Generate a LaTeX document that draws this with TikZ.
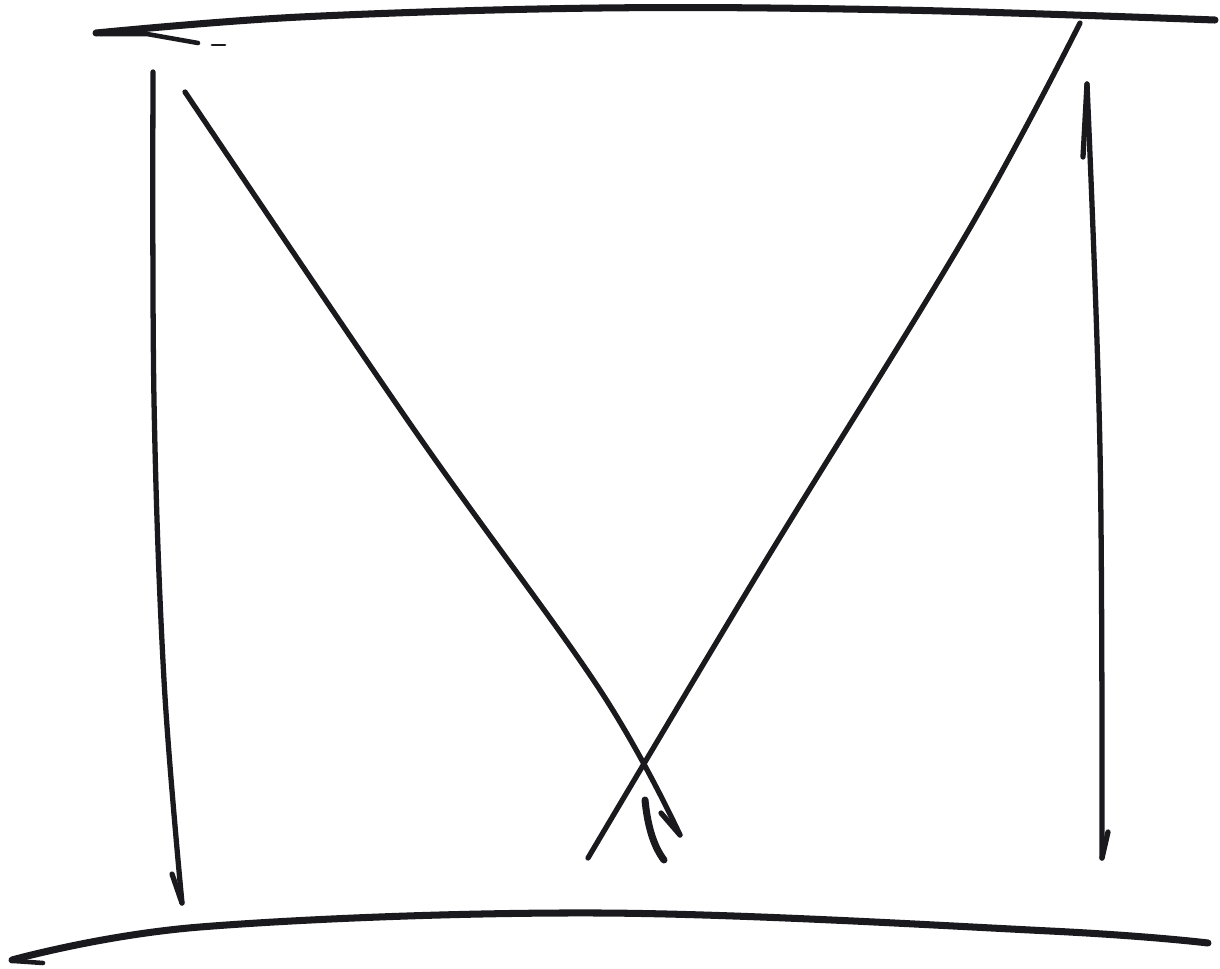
\documentclass[tikz,border=0pt]{standalone}
\definecolor{ink}{RGB}{26,25,30}
\tikzset{
  pen/.style={draw=ink, line width=1.5pt, line cap=round, line join=round},
  edge/.style={draw=ink, line width=2pt, line cap=round, line join=round}
}
\begin{document}
\begin{tikzpicture}[x=0.01cm, y=-0.01cm]
\useasboundingbox (0,0) rectangle (1220,969);

% upper and lower boundary
\draw[edge] plot[smooth, tension=0.6] coordinates {(96,33) (300,17) (600,8) (900,10) (1215,20)};
\draw[pen, line width=1.3pt] (100,34) -- (147,34) -- (198,43);
\draw[pen, line width=0.8pt] (212,45) -- (225,45);
\draw[edge] plot[smooth, tension=0.6] coordinates {(12,960) (200,927) (600,913) (1050,931) (1208,943)};
\draw[pen, line width=1.3pt] (14,961) -- (43,963);

% left line, pointing down
\draw[pen] plot[smooth, tension=0.6] coordinates {(153,72) (154,400) (164,680) (182,903)};
\draw[pen] (182,903) -- (172,874);

% diagonal from top left
\draw[pen] plot[smooth, tension=0.6] coordinates {(185,92) (413,428) (600,690) (680,835)};
\draw[pen] (680,835) -- (661,813);
\draw[pen, line width=2pt] (645,800) .. controls (648,830) and (655,848) .. (664,860);

% diagonal to top right
\draw[pen] plot[smooth, tension=0.6] coordinates {(588,858) (760,570) (967,233) (1080,23)};

% right line
\draw[pen] plot[smooth, tension=0.6] coordinates {(1087,84) (1100,450) (1102,858)};
\draw[pen] (1087,84) -- (1083,157);
\draw[pen] (1102,858) -- (1108,832);
\end{tikzpicture}
\end{document}
